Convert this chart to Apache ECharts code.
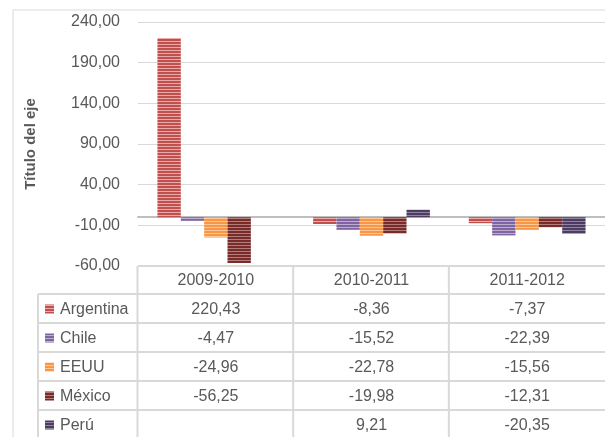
<!DOCTYPE html>
<html>
<head>
<meta charset="utf-8">
<script src="https://cdn.jsdelivr.net/npm/echarts@6/dist/echarts.min.js"></script>
<style>
  html, body { margin: 0; padding: 0; background: #fff; }
  #chart { width: 605px; height: 437px; }
</style>
</head>
<body>
<div id="chart"></div>
<script>
const categories = ['2009-2010', '2010-2011', '2011-2012']
const countries = ['Argentina', 'Chile', 'EEUU', 'México', 'Perú']
const argentina = [220.43, -8.36, -7.37]
const chile = [-4.47, -15.52, -22.39]
const eeuu = [-24.96, -22.78, -15.56]
const mexico = [-56.25, -19.98, -12.31]
const peru = [null, 9.21, -20.35]
const seriesValues = [argentina, chile, eeuu, mexico, peru]

// color de la franja y color claro entre franjas
const stripeColors = [
  ['#c0504d', '#e9aaa9'],
  ['#8064a2', '#bcaed0'],
  ['#f79646', '#fcc898'],
  ['#772c2a', '#b47c7b'],
  ['#4d3b62', '#9085a0']
]

const fmt = v => (v === null || v === undefined) ? '' : v.toFixed(2).replace('.', ',')

function stripes(dark, light) {
  const c = document.createElement('canvas')
  c.width = 4
  c.height = 3
  const ctx = c.getContext('2d')
  ctx.fillStyle = light
  ctx.fillRect(0, 0, 4, 3)
  ctx.fillStyle = dark
  ctx.fillRect(0, 0, 4, 2)
  return { image: c, repeat: 'repeat' }
}

const patterns = stripeColors.map(p => stripes(p[0], p[1]))
const textColor = '#595959'
const lineColor = '#d9d9d9'
const font = 'Liberation Sans'

const chart = echarts.init(document.getElementById('chart'))

const gridLeft = 138
const gridTop = 22
const gridHeight = 244
const gridWidth = 470

chart.setOption({
  animation: false,
  textStyle: { fontFamily: font },
  grid: { left: gridLeft, top: gridTop, width: gridWidth, height: gridHeight },
  xAxis: {
    type: 'category',
    data: categories,
    axisLine: { onZero: true, lineStyle: { color: '#bfbfbf', width: 2 } },
    axisTick: { show: false },
    axisLabel: { show: false }
  },
  yAxis: {
    type: 'value',
    min: -60,
    max: 240,
    interval: 50,
    name: 'Título del eje',
    nameLocation: 'middle',
    nameRotate: 90,
    nameGap: 100,
    nameTextStyle: { color: textColor, fontSize: 15, fontWeight: 'bold', fontFamily: font },
    axisLine: { show: false },
    axisTick: { show: false },
    axisLabel: { color: textColor, fontSize: 16, margin: 18, formatter: v => fmt(v) },
    splitLine: { lineStyle: { color: lineColor, width: 1 } }
  },
  series: countries.map((name, i) => ({
    name: name,
    type: 'bar',
    data: seriesValues[i],
    barGap: '0%',
    barCategoryGap: '25%',
    itemStyle: { color: patterns[i] }
  }))
})

// tabla de datos debajo del gráfico
const headTop = 266
const headH = 28
const rowH = 29
const tableLeft = 38
const right = 610
const colEdges = categories.map((c, i) => chart.convertToPixel({ xAxisIndex: 0 }, c) - gridWidth / categories.length / 2)
const colCenters = categories.map(c => chart.convertToPixel({ xAxisIndex: 0 }, c))
const bottom = headTop + headH + rowH * countries.length

const graphics = []
const line = (x1, y1, x2, y2) => graphics.push({
  type: 'line', silent: true,
  shape: { x1, y1, x2, y2 },
  style: { stroke: lineColor, lineWidth: 2 }
})
const label = (x, y, text, align) => graphics.push({
  type: 'text', silent: true, x, y,
  style: { text, fill: textColor, font: '16px "' + font + '"', align: align || 'center', verticalAlign: 'middle' }
})

// borde exterior
graphics.push({
  type: 'rect', silent: true,
  shape: { x: 13, y: 10, width: 620, height: 460 },
  style: { fill: 'none', stroke: lineColor, lineWidth: 1 }
})

line(gridLeft, headTop, right, headTop)
for (let r = 0; r <= countries.length; r++) {
  const y = headTop + headH + r * rowH
  line(tableLeft, y, right, y)
}
line(tableLeft, headTop + headH, tableLeft, bottom)
colEdges.forEach(x => line(x, headTop, x, bottom))

categories.forEach((c, j) => label(colCenters[j], headTop + headH / 2 + 1, c))

countries.forEach((name, i) => {
  const cy = headTop + headH + rowH * i + rowH / 2 + 1
  graphics.push({
    type: 'rect', silent: true,
    shape: { x: 45, y: cy - 5, width: 9, height: 9 },
    style: { fill: patterns[i] }
  })
  label(60, cy, name, 'left')
  seriesValues[i].forEach((v, j) => label(colCenters[j], cy, fmt(v)))
})

chart.setOption({ graphic: graphics })
</script>
</body>
</html>
